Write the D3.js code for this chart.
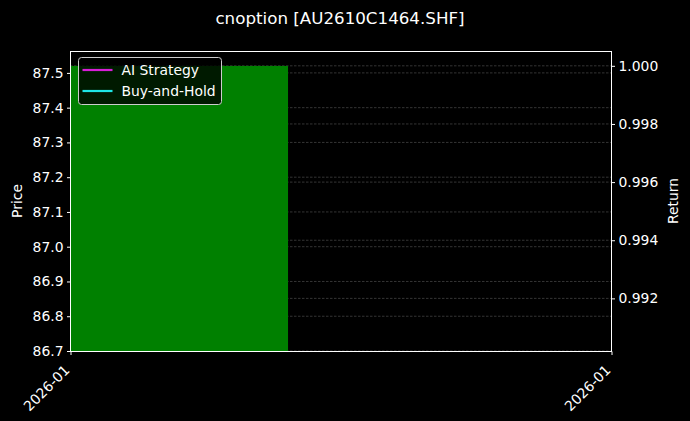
<!DOCTYPE html>
<html><head><meta charset="utf-8">
<script src="https://cdn.jsdelivr.net/npm/d3@7"></script>
<style>
html,body{margin:0;padding:0;background:#000;}
text{font-family:"DejaVu Sans",sans-serif;fill:#fff;}
</style></head>
<body><svg id="c" width="690" height="421"></svg>
<script>
const title = "cnoption [AU2610C1464.SHF]";
const dates = ["2026-01-15"];
const prices = [87.52];
const strategyReturn = [1.0];
const buyHoldReturn = [1.0];
const priceTicks = [86.7, 86.8, 86.9, 87.0, 87.1, 87.2, 87.3, 87.4, 87.5];
const returnTicks = [0.992, 0.994, 0.996, 0.998, 1.000];
const xTickLabels = ["2026-01", "2026-01"];
const legendItems = [{name:"AI Strategy", color:"#d81ed8"}, {name:"Buy-and-Hold", color:"#1ee6e6"}];

const FS = "13.9px";
const svg = d3.select("#c");
const L = 70, R = 611, T = 51, B = 351;
svg.append("rect").attr("width",690).attr("height",421).attr("fill","#000");

const day = 86400000;
const parse = d3.timeParse("%Y-%m-%d");
const d0 = parse(dates[0]).getTime();
const x = d3.scaleLinear().domain([d0 - 0.4*day, d0 + 1.585*day]).range([L, R]);
const y = d3.scaleLinear().domain([86.7, 87.563]).range([B, T]);
const y2 = d3.scaleLinear().domain([0.99019, 1.00051]).range([B, T]);

// grid
const g = svg.append("g");
g.selectAll("line.gl").data(priceTicks).join("line")
  .attr("x1",L).attr("x2",R).attr("y1",d=>y(d)).attr("y2",d=>y(d))
  .attr("stroke","#4a4a4a").attr("stroke-width",0.7).attr("stroke-dasharray","2.5,1.5");
g.selectAll("line.gr").data(returnTicks).join("line")
  .attr("x1",L).attr("x2",R).attr("y1",d=>y2(d)).attr("y2",d=>y2(d))
  .attr("stroke","#4a4a4a").attr("stroke-width",0.7).attr("stroke-dasharray","2.5,1.5");

// bars
svg.selectAll("rect.bar").data(dates).join("rect")
  .attr("x",(d)=>x(parse(d).getTime()-0.4*day))
  .attr("width",(d)=>x(parse(d).getTime()+0.4*day)-x(parse(d).getTime()-0.4*day))
  .attr("y",(d,i)=>y(prices[i])).attr("height",(d,i)=>B-y(prices[i]))
  .attr("fill","#008000");

// lines
const line = d3.line().x((d,i)=>x(parse(dates[i]).getTime())).y(d=>y2(d));
svg.append("path").datum(strategyReturn).attr("d",line).attr("fill","none").attr("stroke",legendItems[0].color).attr("stroke-width",2);
svg.append("path").datum(buyHoldReturn).attr("d",line).attr("fill","none").attr("stroke",legendItems[1].color).attr("stroke-width",2);

// frame
svg.append("rect").attr("x",L+0.5).attr("y",T+0.5).attr("width",R-L).attr("height",B-T)
  .attr("fill","none").attr("stroke","#fff").attr("stroke-width",1);

// axes
const axL = d3.axisLeft(y).tickValues(priceTicks).tickFormat(d3.format(".1f")).tickSize(3.5).tickPadding(3.5);
const axR = d3.axisRight(y2).tickValues(returnTicks).tickFormat(d3.format(".3f")).tickSize(3.5).tickPadding(3.5);
const xt = [x.domain()[0], x.domain()[1]];
const axB = d3.axisBottom(x).tickValues(xt).tickFormat((d,i)=>xTickLabels[i]).tickSize(3.5).tickPadding(3.5);
function style(sel){
  sel.select(".domain").remove();
  sel.selectAll(".tick line").attr("stroke","#fff");
  sel.selectAll(".tick text").attr("fill","#fff").style("font-size",FS).style("font-family","DejaVu Sans");
}
svg.append("g").attr("transform",`translate(${L+0.5},0)`).call(axL).call(style);
svg.append("g").attr("transform",`translate(${R+0.5},0)`).call(axR).call(style);
const bx = svg.append("g").attr("transform",`translate(0.5,${B+0.5})`).call(axB).call(style);
bx.selectAll(".tick text").attr("text-anchor","end").attr("x",0).attr("y",0).attr("dy","0.35em")
  .attr("transform","translate(-4,16) rotate(-45)");

// labels
svg.append("text").attr("x",340).attr("y",24).attr("text-anchor","middle").style("font-size","16.7px").text(title);
svg.append("text").attr("transform","translate(22,201) rotate(-90)").attr("text-anchor","middle").style("font-size",FS).text("Price");
svg.append("text").attr("transform","translate(678,201) rotate(-90)").attr("text-anchor","middle").style("font-size",FS).text("Return");

// legend
const lg = svg.append("g").attr("transform","translate(78.5,57.5)");
lg.append("rect").attr("width",143).attr("height",47).attr("rx",3)
  .attr("fill","rgba(0,0,0,0.8)").attr("stroke","#ccc").attr("stroke-width",1);
legendItems.forEach((it,i)=>{
  const yy = 12.5 + i*21;
  lg.append("line").attr("x1",4).attr("x2",34).attr("y1",yy).attr("y2",yy).attr("stroke",it.color).attr("stroke-width",2.2);
  lg.append("text").attr("x",43).attr("y",yy+5).style("font-size",FS).text(it.name);
});
</script></body></html>
